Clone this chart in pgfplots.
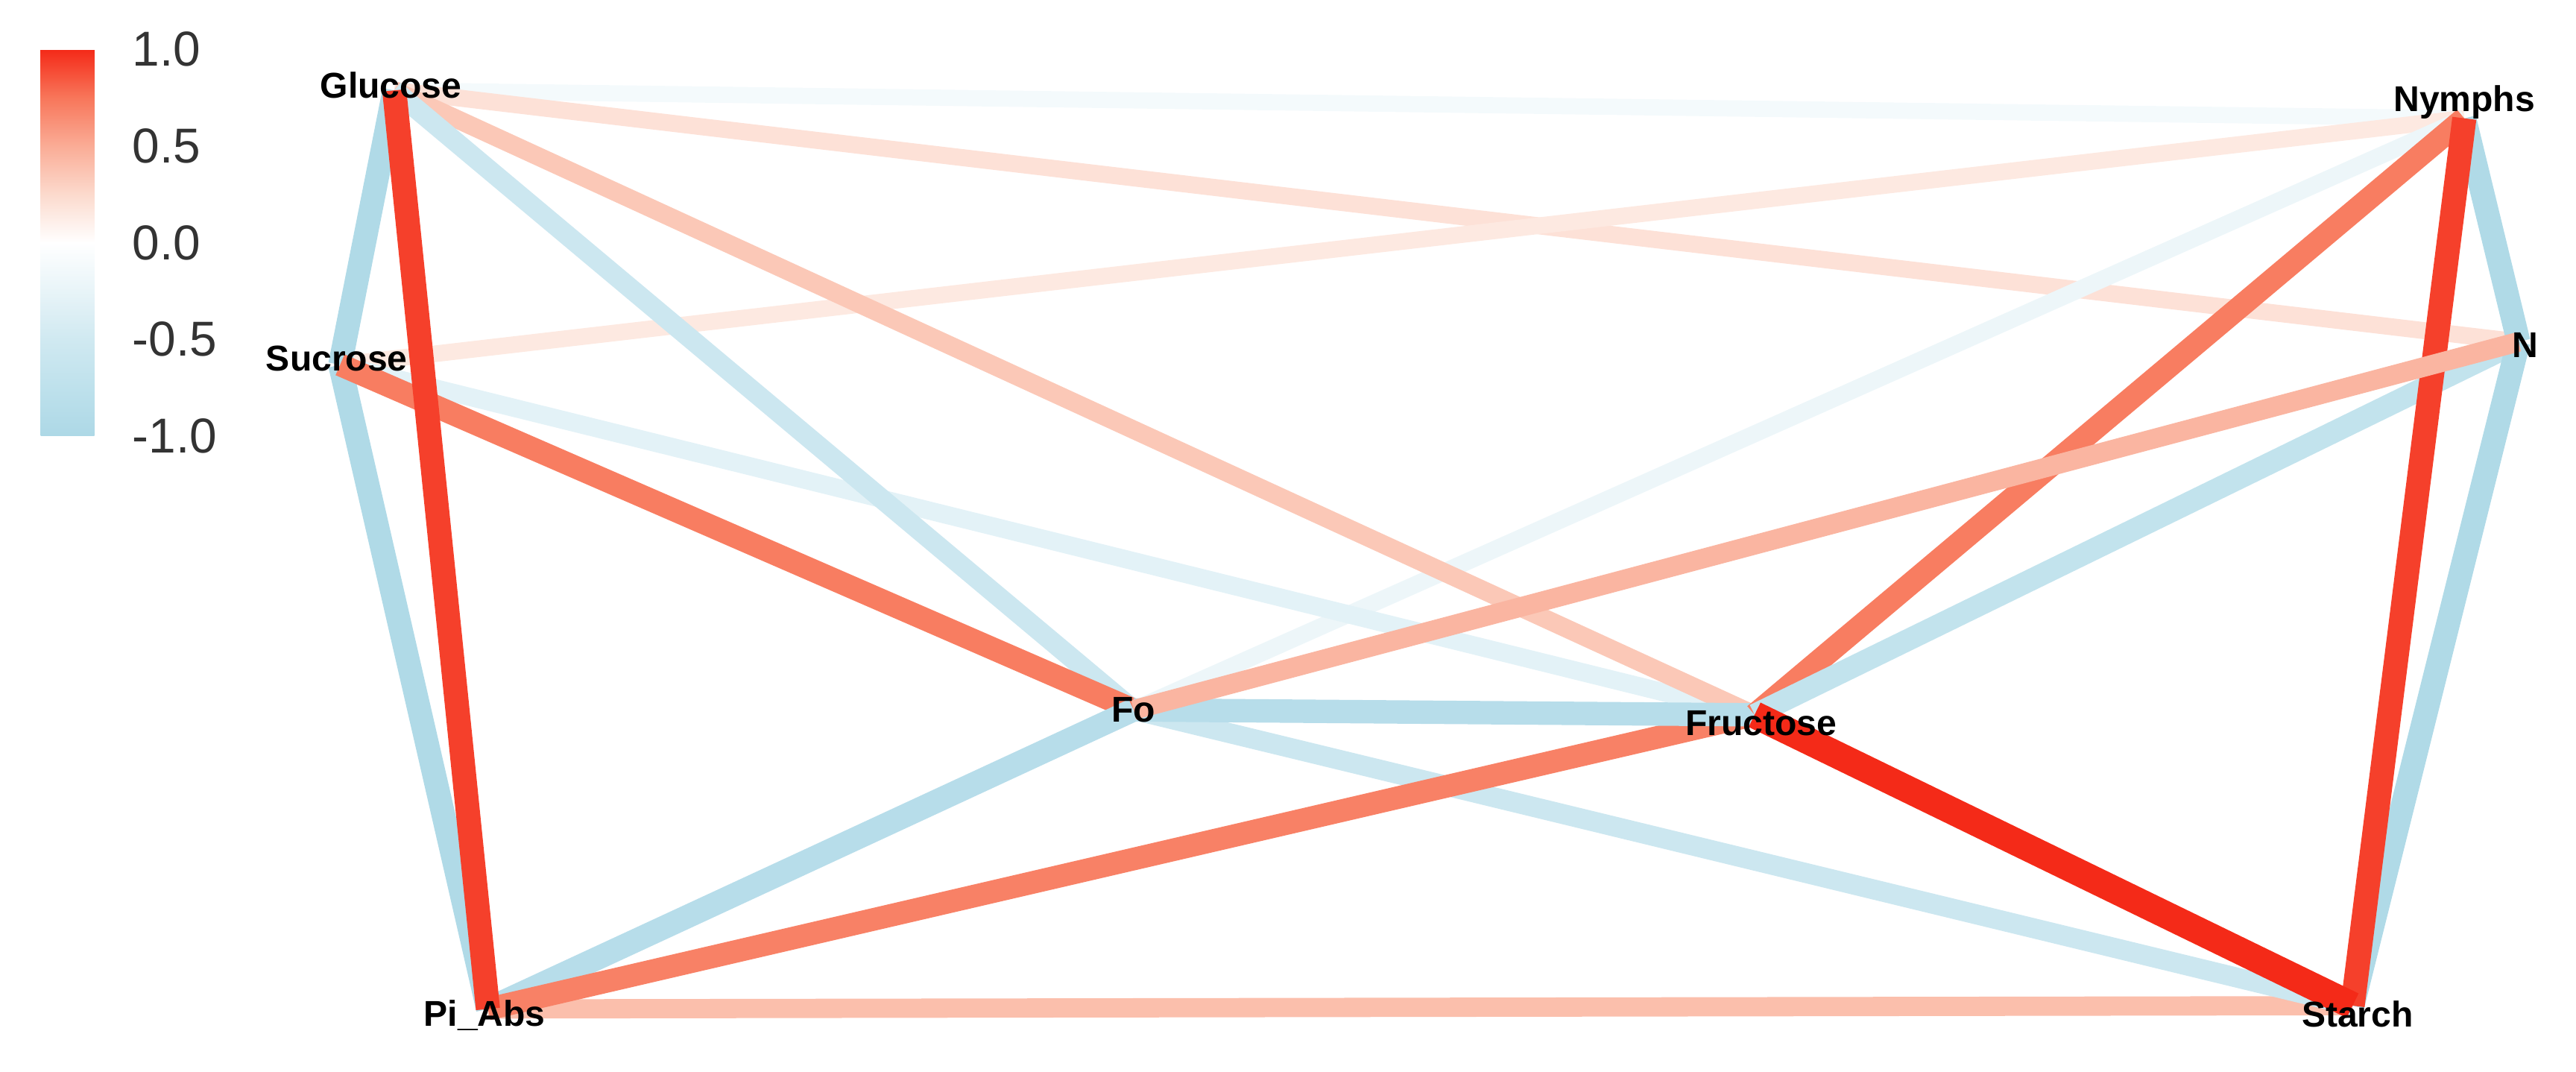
\documentclass[border=0pt]{standalone}
\usepackage{pgfplots}
\pgfplotsset{compat=1.18}
\usepackage{fontspec}
\setmainfont{Liberation Sans}
\begin{document}
\begin{tikzpicture}
\begin{axis}[
  scale only axis, width=24cm, height=9.98cm,
  xmin=0, xmax=1568, ymin=0, ymax=652,
  hide axis, clip=false,
  point meta min=-1, point meta max=1,
  colormap={corr}{rgb255=(173,216,230) rgb255=(190,225,236) rgb255=(208,233,241)
    rgb255=(232,244,248) rgb255=(255,255,255) rgb255=(252,218,205)
    rgb255=(250,172,150) rgb255=(248,118,90) rgb255=(244,42,24)},
  colorbar,
  colorbar style={
    at={(parent axis.north west)}, anchor=north west,
    xshift=0.08cm, yshift=-0.46cm,
    width=0.66cm, height=3.6cm,
    ytick={-1,-0.5,0,0.5,1}, yticklabel pos=right,
    major tick length=0, axis line style={draw=none},
    /pgf/number format/fixed, /pgf/number format/fixed zerofill,
    /pgf/number format/precision=1, /pgf/number format/assume math mode=true,
    yticklabel style={font=\fontsize{13}{15}\selectfont, text=black!80, xshift=2pt},
  },
  e/.style={mesh, point meta=explicit, line width=#1},
]
% keep the full canvas in the bounding box
\path (axis description cs:0,0) rectangle (axis description cs:1,1);
% edges: (x, y) [correlation]
\addplot[e=4.3pt] coordinates {(240,597) [-0.12] (1500,580) [-0.12]};  % Glucose-Nymphs
\addplot[e=4.5pt] coordinates {(240,597) [0.2] (1533,444) [0.2]};      % Glucose-N
\addplot[e=4.4pt] coordinates {(207,430) [0.15] (1500,580) [0.15]};    % Sucrose-Nymphs
\addplot[e=4.5pt] coordinates {(690,220) [-0.2] (1500,580) [-0.2]};    % Fo-Nymphs
\addplot[e=4.8pt] coordinates {(207,430) [-0.3] (1068,217) [-0.3]};    % Sucrose-Fructose
\addplot[e=4.9pt] coordinates {(240,597) [0.35] (1068,217) [0.35]};    % Glucose-Fructose
\addplot[e=5.3pt] coordinates {(240,597) [-0.55] (690,220) [-0.55]};   % Glucose-Fo
\addplot[e=5.1pt] coordinates {(297,38) [0.4] (1432,40) [0.4]};        % Pi_Abs-Starch
\addplot[e=5.3pt] coordinates {(690,220) [-0.55] (1432,40) [-0.55]};   % Fo-Starch
\addplot[e=6.3pt] coordinates {(240,597) [-0.95] (207,430) [-0.95]};   % Glucose-Sucrose
\addplot[e=6.3pt] coordinates {(207,430) [-0.95] (297,38) [-0.95]};    % Sucrose-Pi_Abs
\addplot[e=6.0pt] coordinates {(207,430) [0.72] (690,220) [0.72]};     % Sucrose-Fo
\addplot[e=6.2pt] coordinates {(297,38) [-0.85] (690,220) [-0.85]};    % Pi_Abs-Fo
\addplot[e=6.0pt] coordinates {(297,38) [0.7] (1068,217) [0.7]};       % Pi_Abs-Fructose
\addplot[e=6.2pt] coordinates {(690,220) [-0.85] (1068,217) [-0.85]};  % Fo-Fructose
\addplot[e=6.0pt] coordinates {(1068,217) [0.72] (1500,580) [0.72]};   % Fructose-Nymphs
\addplot[e=5.8pt] coordinates {(1068,217) [-0.7] (1533,444) [-0.7]};   % Fructose-N
\addplot[e=6.3pt] coordinates {(1500,580) [-0.95] (1533,444) [-0.95]}; % Nymphs-N
\addplot[e=6.3pt] coordinates {(1533,444) [-0.95] (1432,40) [-0.95]};  % N-Starch
\addplot[e=6.4pt] coordinates {(1500,580) [0.93] (1432,40) [0.93]};    % Nymphs-Starch
\addplot[e=5.2pt] coordinates {(690,220) [0.45] (1533,444) [0.45]};    % Fo-N
\addplot[e=6.4pt] coordinates {(240,597) [0.93] (297,38) [0.93]};      % Glucose-Pi_Abs
\addplot[e=7.2pt] coordinates {(1068,217) [1.0] (1432,40) [1.0]};      % Fructose-Starch
% node labels
\begin{scope}[every node/.style={font=\bfseries\fontsize{9.5}{11}\selectfont, inner sep=0pt}]
\node at (axis cs:238,600) {Glucose};
\node at (axis cs:205,434) {Sucrose};
\node at (axis cs:295,34) {Pi\_Abs};
\node at (axis cs:690,220) {Fo};
\node at (axis cs:1072,212) {Fructose};
\node at (axis cs:1435,35) {Starch};
\node at (axis cs:1537,442) {N};
\node at (axis cs:1500,590) {Nymphs};
\end{scope}
\end{axis}
\end{tikzpicture}
\end{document}
